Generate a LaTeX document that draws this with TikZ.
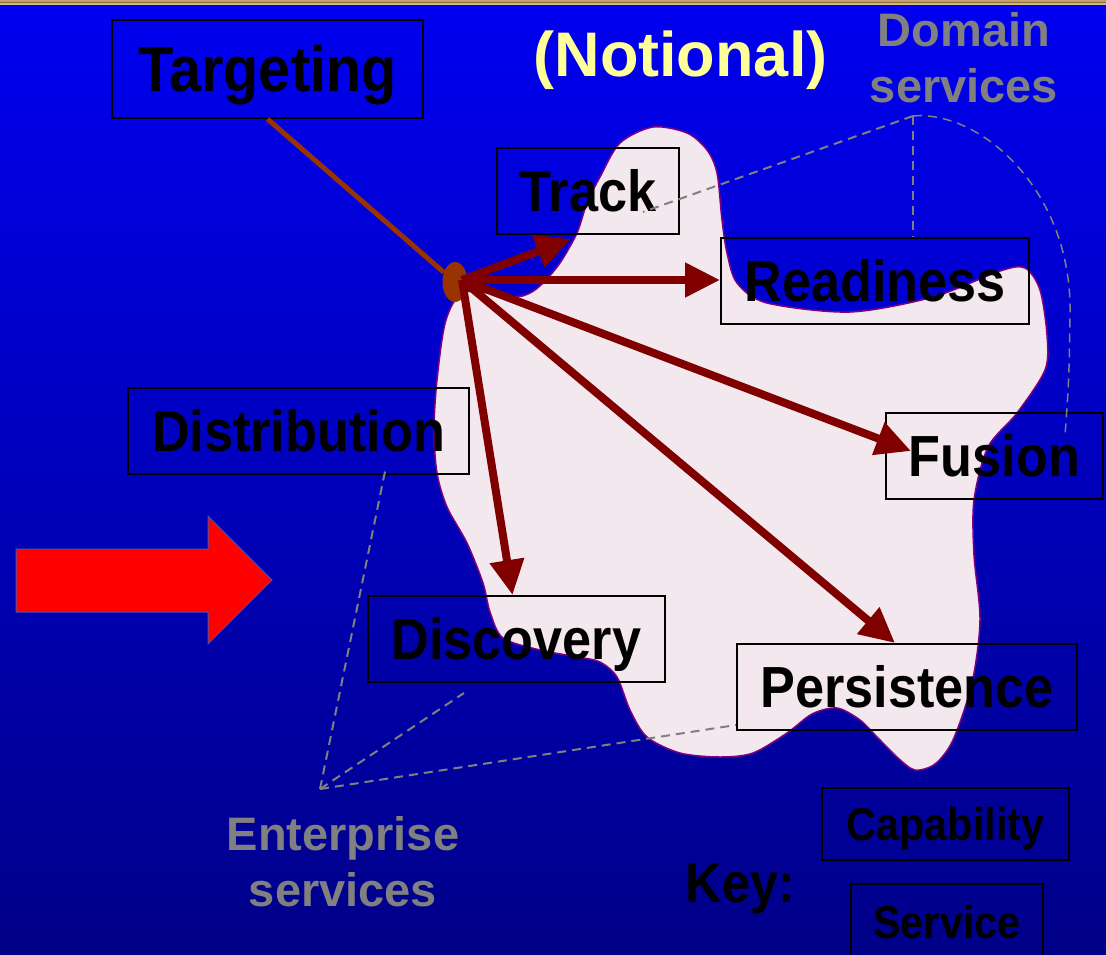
\documentclass[tikz,border=0pt]{standalone}
\usepackage{fontspec}
\setmainfont{Liberation Sans}
\newfontfamily\condsans[FakeStretch=0.9]{Liberation Sans}
\usetikzlibrary{shapes.geometric, arrows.meta}

\definecolor{blobfill}{RGB}{243,232,238}
\definecolor{blobline}{RGB}{128,0,128}
\definecolor{darkred}{RGB}{128,0,0}
\definecolor{hubbrown}{RGB}{153,51,0}
\definecolor{labelgray}{RGB}{128,128,128}
\definecolor{paleyellow}{RGB}{255,255,153}
\definecolor{bgtop}{RGB}{0,0,240}
\definecolor{bgbottom}{RGB}{0,0,136}
\definecolor{arrowedge}{RGB}{80,80,176}
\definecolor{goldlight}{RGB}{192,160,112}
\definecolor{golddark}{RGB}{140,108,52}
\definecolor{goldpale}{RGB}{212,184,128}

\begin{document}
\begin{tikzpicture}[x=1pt, y=-1pt]
    \tikzstyle{svcbox} = [rectangle, draw=black, line width=2pt, inner sep=0pt, text centered, font=\condsans\bfseries\fontsize{58}{60}\selectfont, text height=41.5pt, text depth=0pt]
    \tikzstyle{keybox} = [svcbox, font=\condsans\bfseries\fontsize{46}{48}\selectfont, text height=33pt]
    \tikzstyle{graylabel} = [text=labelgray, align=center, font=\bfseries\fontsize{47}{56}\selectfont]
    \tikzstyle{arrow} = [darkred, line width=8pt, -{Triangle[length=35pt, width=33pt]}]
    \tikzstyle{link} = [labelgray, line width=2pt, dash pattern=on 9pt off 6pt]

    \useasboundingbox (0,0) rectangle (1106,954);
    \shade[top color=bgtop, bottom color=bgbottom] (0,0) rectangle (1106,954);
    \fill[goldlight] (0,0) rectangle (1106,1.5);
    \fill[golddark] (0,1.5) rectangle (1106,3);
    \fill[goldpale] (0,3) rectangle (1106,5);

    \filldraw[fill=blobfill, draw=blobline, line width=1.5pt] plot[smooth cycle, tension=0.5] coordinates {(465,292) (513,297) (530,293) (543,283) (560,263) (577,233) (587,203) (600,177) (620,143) (653,127) (687,133) (707,150) (717,173) (722,220) (727,253) (737,283) (767,303) (850,312) (933,297) (1000,271) (1025,268) (1040,290) (1047,335) (1045,370) (1017,413) (988,447) (974,500) (974,555) (980,620) (972,683) (953,740) (935,764) (915,770) (898,758) (878,738) (860,720) (837,708) (812,714) (787,733) (753,753) (720,757) (680,753) (647,737) (630,710) (617,677) (600,662) (578,657) (540,650) (503,638) (490,612) (483,583) (467,543) (447,507) (437,473) (434,430) (437,380) (446,320)};

    \filldraw[fill=red, draw=arrowedge, line width=1pt] (16,549) -- (208,549) -- (208,516) -- (272,580) -- (208,644) -- (208,612) -- (16,612) -- cycle;

    \node (targeting) [svcbox, minimum width=311pt, minimum height=98pt, font=\condsans\bfseries\fontsize{64}{66}\selectfont, text height=45.8pt] at (267.5,69) {Targeting};
    \node (notional) [font=\bfseries\fontsize{63}{65}\selectfont, text=paleyellow, text height=45pt, text depth=0pt, inner sep=0pt] at (680.5,53.5) {(Notional)};
    \node (domain) [graylabel] at (964,58) {Domain\\services};
    \node (track) [svcbox, minimum width=182pt, minimum height=86pt] at (588,191) {Track};
    \node (readiness) [svcbox, minimum width=308pt, minimum height=86pt] at (875,281) {Readiness};
    \node (distribution) [svcbox, minimum width=341pt, minimum height=86pt] at (298.5,431) {Distribution};
    \node (fusion) [svcbox, minimum width=217pt, minimum height=86pt] at (994.5,456) {Fusion};
    \node (discovery) [svcbox, minimum width=297pt, minimum height=86pt] at (516.5,639) {Discovery};
    \node (persistence) [svcbox, minimum width=340pt, minimum height=86pt] at (907,687) {Persistence};
    \node (enterprise) [graylabel] at (343,862) {Enterprise\\services};
    \node (key) [font=\condsans\bfseries\fontsize{56}{58}\selectfont, text height=40pt, text depth=0pt, inner sep=0pt] at (740.5,882) {Key:};
    \node (capability) [keybox, minimum width=247pt, minimum height=72pt] at (945.5,824) {Capability};
    \node (service) [keybox, minimum width=192pt, minimum height=76pt] at (947,922) {Service};

    \coordinate (domtip) at (913,116);
    \draw [link] (domtip) -- ([xshift=-37pt, yshift=-21pt]track.east);
    \draw [link] (domtip) -- (domtip |- readiness.north);
    \draw [link, line width=1.5pt] (domtip) .. controls (980,110) and (1072,190) .. (1070,313) .. controls (1069,380) .. ([xshift=-39pt, yshift=-24pt]fusion.north east);
    \coordinate (enttip) at (320,789);
    \draw [link] (enttip) -- ([xshift=87pt, yshift=6pt]distribution.south);
    \draw [link] (enttip) -- ([xshift=97pt, yshift=-10pt]discovery.south west);
    \draw [link] (enttip) -- ([yshift=6pt]persistence.south west);

    \node (hub) [ellipse, fill=hubbrown, minimum width=25pt, minimum height=40pt, inner sep=0pt] at (455,282) {};
    \draw [hubbrown, line width=5pt] (targeting.south) -- (hub);
    \coordinate (src) at (462,280);
    \draw [arrow] (src) -- ([xshift=-17pt, yshift=-4pt]track.south);
    \draw [arrow] (src) -- (src -| readiness.west);
    \draw [arrow] (src) -- ([xshift=26pt, yshift=-39pt]fusion.north west);
    \draw [arrow] (src) -- ([xshift=-12pt]persistence.north);
    \draw [arrow] (src) -- ([xshift=-4pt]discovery.north);
\end{tikzpicture}
\end{document}
